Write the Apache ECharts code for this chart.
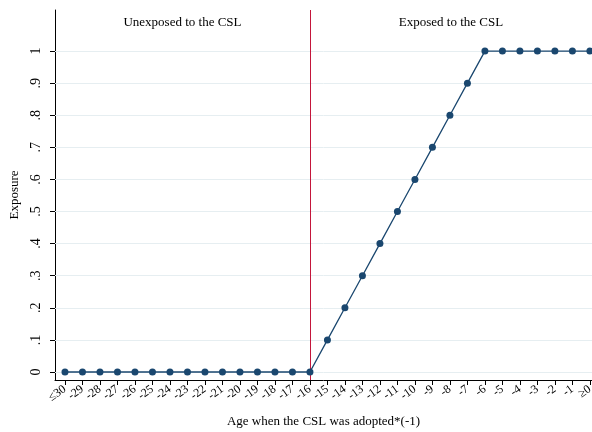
<!DOCTYPE html>
<html><head><meta charset="utf-8">
<script src="https://cdn.jsdelivr.net/npm/echarts@6/dist/echarts.min.js"></script>
<style>html,body{margin:0;padding:0;background:#fff}#c{width:592px;height:432px}</style>
</head><body><div id="c"></div>
<script>
const ages = [-30,-29,-28,-27,-26,-25,-24,-23,-22,-21,-20,-19,-18,-17,-16,-15,-14,-13,-12,-11,-10,-9,-8,-7,-6,-5,-4,-3,-2,-1,0];
const exposure = [0,0,0,0,0,0,0,0,0,0,0,0,0,0,0,0.1,0.2,0.3,0.4,0.5,0.6,0.7,0.8,0.9,1,1,1,1,1,1,1];
const xTickLabels = {'-30':'≤30','0':'≥0'};
const yTicks = [0,0.1,0.2,0.3,0.4,0.5,0.6,0.7,0.8,0.9,1];
const yTickLabels = ['0','.1','.2','.3','.4','.5','.6','.7','.8','.9','1'];
const cutoff = -16;
const regionLabels = ['Unexposed to the CSL','Exposed to the CSL'];

const font = 'Liberation Serif';
const xMin = -30.57, xMax = 0.12;
const fmt = v=>xTickLabels[String(Math.round(v))]||String(Math.round(v));
const labelStyle = {interval:0,rotate:35,margin:8,fontFamily:font,fontSize:12,color:'#000',
  showMinLabel:true,showMaxLabel:true,hideOverlap:false,formatter:fmt};
const evenAges = ages.filter(a=>a%2===0), oddAges = ages.filter(a=>a%2!==0);
const chart = echarts.init(document.getElementById('c'));
chart.setOption({
  animation:false,
  textStyle:{fontFamily:font},
  grid:{left:55,right:0,top:10,bottom:52,containLabel:false,outerBoundsMode:'none'},
  xAxis:[{type:'value',min:xMin,max:xMax,position:'bottom',
    name:'Age when the CSL was adopted*(-1)',nameLocation:'middle',nameGap:35,
    nameTextStyle:{fontFamily:font,fontSize:13,color:'#000'},
    axisLine:{onZero:false,lineStyle:{color:'#000',width:1}},
    axisTick:{customValues:ages,length:5,lineStyle:{color:'#000'}},
    axisLabel:Object.assign({customValues:evenAges},labelStyle),
    splitLine:{show:false}},
   {type:'value',min:xMin,max:xMax,position:'bottom',offset:0,
    axisLine:{show:false,onZero:false},axisTick:{show:false},
    axisLabel:Object.assign({customValues:oddAges},labelStyle),
    splitLine:{show:false}}],
  yAxis:{type:'value',min:-0.025,max:1.128,
    name:'Exposure',nameLocation:'middle',nameGap:31,
    nameTextStyle:{fontFamily:font,fontSize:13,color:'#000'},
    axisLine:{show:true,onZero:false,lineStyle:{color:'#000',width:1}},
    axisTick:{show:true,customValues:yTicks,length:5,lineStyle:{color:'#000'}},
    axisLabel:{customValues:yTicks,interval:0,rotate:90,margin:12,fontFamily:font,fontSize:14,color:'#000',
      showMinLabel:true,showMaxLabel:true,hideOverlap:false,
      formatter:v=>yTickLabels[Math.round(v*10)]},
    splitLine:{show:false}},
  series:[{
    type:'line',data:[],
    markLine:{silent:true,symbol:'none',label:{show:false},
      lineStyle:{color:'#e6eef1',width:1,type:'solid'},
      data:yTicks.map(v=>({yAxis:v}))},
    markArea:{silent:true,itemStyle:{color:'rgba(0,0,0,0)'},
      label:{position:'insideTop',distance:6,fontFamily:font,fontSize:13,color:'#000'},
      data:[[{name:regionLabels[0],xAxis:xMin},{xAxis:cutoff}],
            [{name:regionLabels[1],xAxis:cutoff},{xAxis:xMax}]]},
    z:1
  },{
    type:'line',data:[],
    markLine:{silent:true,symbol:'none',label:{show:false},
      lineStyle:{color:'#c4163b',width:1,type:'solid'},
      data:[{xAxis:cutoff}]},
    z:2
  },{
    type:'line',data:ages.map((a,i)=>[a,exposure[i]]),
    symbol:'circle',symbolSize:7,
    lineStyle:{color:'#1a476f',width:1.3},itemStyle:{color:'#1a476f'},
    z:5
  }]
});
</script></body></html>
